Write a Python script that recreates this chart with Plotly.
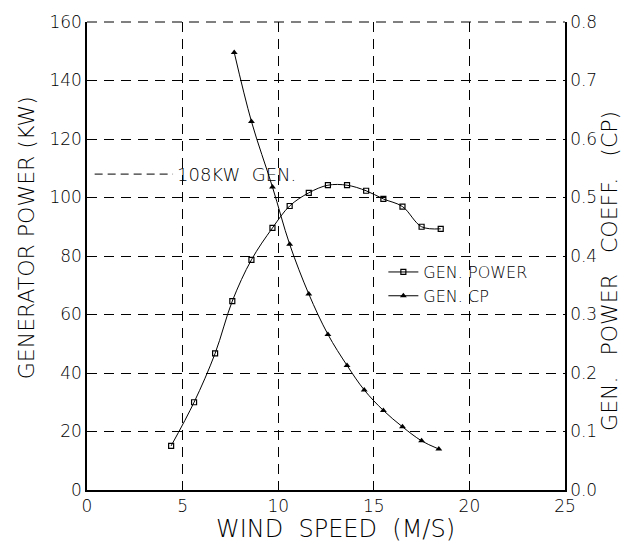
import plotly.graph_objects as go

# Data
wind_power = [4.4, 5.6, 6.7, 7.6, 8.6, 9.7, 10.6, 11.6, 12.6, 13.6, 14.6, 15.5, 16.5, 17.5, 18.5]
gen_power = [15.1, 30.0, 46.7, 64.6, 78.7, 89.6, 97.1, 101.6, 104.2, 104.2, 102.3, 99.5, 96.9, 90.0, 89.3]
wind_cp = [7.7, 8.6, 9.7, 10.6, 11.6, 12.6, 13.6, 14.5, 15.5, 16.5, 17.5, 18.4]
gen_cp = [0.748, 0.630, 0.518, 0.420, 0.335, 0.266, 0.213, 0.171, 0.136, 0.108, 0.084, 0.070]
rated_x = [0.4, 4.5]
rated_y = [108, 108]
rated_label = "108KW  GEN."
x_ticks = [0, 5, 10, 15, 20, 25]
y_ticks = [0, 20, 40, 60, 80, 100, 120, 140, 160]
y2_ticks = [0.0, 0.1, 0.2, 0.3, 0.4, 0.5, 0.6, 0.7, 0.8]
x_title = "WIND  SPEED  (M/S)"
y_title = "GENERATOR POWER (KW)"
y2_title = "GEN.   POWER   COEFF.   (CP)"

FONT = "DejaVu Sans"
W = 200
fig = go.Figure()

fig.add_trace(go.Scatter(
    x=wind_power, y=gen_power, name="GEN. POWER", mode="lines+markers",
    line=dict(color="black", width=1, shape="spline"),
    marker=dict(symbol="square-open", size=5, color="black", line=dict(width=1.2)),
))
fig.add_trace(go.Scatter(
    x=wind_cp, y=gen_cp, name="GEN. CP", mode="lines+markers", yaxis="y2",
    line=dict(color="black", width=1, shape="spline"),
    marker=dict(symbol="triangle-up", size=6, color="black"),
))
fig.add_trace(go.Scatter(
    x=rated_x, y=rated_y, mode="lines", showlegend=False, hoverinfo="skip",
    line=dict(color="black", width=1, dash="8px,5px"),
))

fig.add_annotation(x=rated_x[1], y=rated_y[1], text=rated_label, showarrow=False,
                   xanchor="left", yanchor="middle", xshift=2,
                   font=dict(family=FONT, size=18, color="black", weight=W))

# axis titles placed as annotations for exact positioning
fig.add_annotation(xref="paper", yref="paper", x=0.52, y=-0.084, text=x_title,
                   showarrow=False, xanchor="center", yanchor="middle",
                   font=dict(family=FONT, size=24, color="black", weight=W))
fig.add_annotation(xref="paper", yref="paper", x=-0.1276, y=0.538, text=y_title,
                   showarrow=False, textangle=-90, xanchor="center", yanchor="middle",
                   font=dict(family=FONT, size=22, color="black", weight=W))
fig.add_annotation(xref="paper", yref="paper", x=1.094, y=0.468, text=y2_title,
                   showarrow=False, textangle=-90, xanchor="center", yanchor="middle",
                   font=dict(family=FONT, size=22, color="black", weight=W))

# dashed top edge (grid line at 160)
fig.add_shape(type="line", xref="paper", yref="paper", x0=0, x1=1, y0=1, y1=1,
              line=dict(color="black", width=1, dash="10px,7px"))

grid = dict(showgrid=True, gridcolor="black", gridwidth=1, griddash="10px,7px")

fig.update_layout(
    width=641, height=550,
    margin=dict(l=87, r=76, t=14, b=60),
    paper_bgcolor="white", plot_bgcolor="white",
    font=dict(family=FONT, size=17, color="black", weight=W),
    xaxis=dict(range=[0, 25], tickvals=x_ticks, showline=True, linecolor="black",
               linewidth=1.5, zeroline=False, ticks="",
               tickfont=dict(size=17, weight=W), **grid),
    yaxis=dict(range=[0, 160], tickvals=y_ticks, showline=True, linecolor="black",
               linewidth=1.5, zeroline=False, ticks="",
               tickfont=dict(size=17, weight=W), **grid),
    yaxis2=dict(range=[0, 0.8], tickvals=y2_ticks, tickformat=".1f", overlaying="y",
                side="right", showline=True, linecolor="black", linewidth=1.5,
                showgrid=False, zeroline=False, ticks="",
                tickfont=dict(size=17, weight=W)),
    legend=dict(x=0.62, y=0.502, xanchor="left", yanchor="top", bgcolor="rgba(0,0,0,0)",
                font=dict(size=16, weight=W), tracegroupgap=0),
    showlegend=True,
)

fig.write_html("out.html")
